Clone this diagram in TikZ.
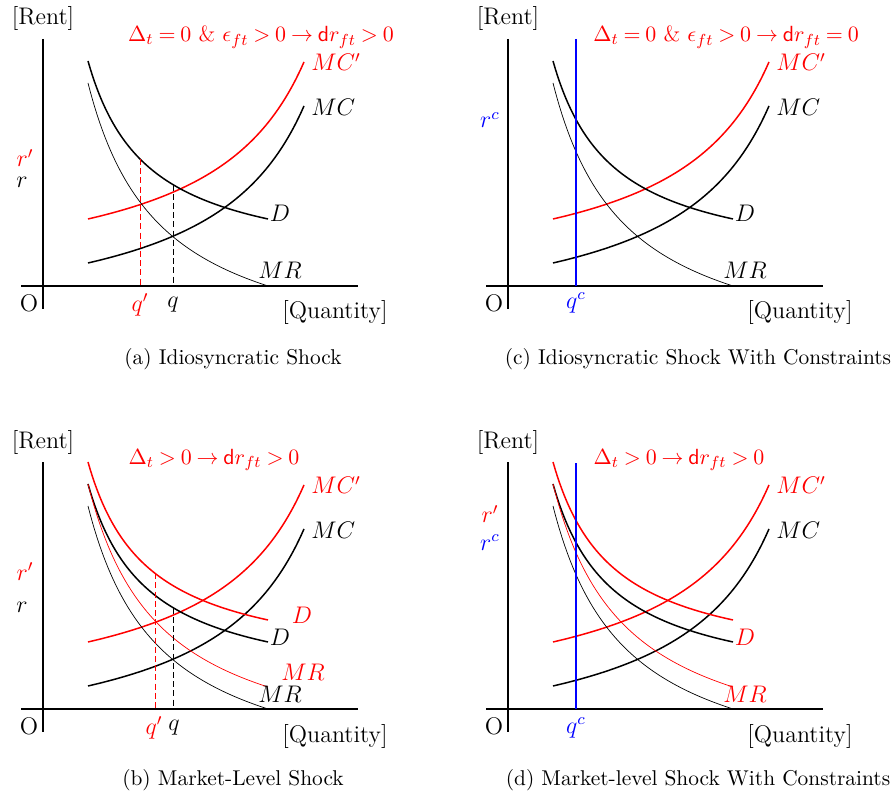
\documentclass[tikz,border=0pt]{standalone}
\usepackage{amsmath,amssymb}
\usepackage{xcolor}
\usetikzlibrary{positioning}

\begin{document}
\begin{tikzpicture}[x=0.5pt,y=-0.5pt,
  axis/.style={line width=0.7pt},
  curve/.style={line width=0.75pt},
  thincurve/.style={line width=0.35pt},
  guide/.style={line width=0.45pt,dash pattern=on 3pt off 1.6pt},
  lab/.style={font=\large,inner sep=0pt},
  ttl/.style={font=\fontsize{11}{13}\selectfont,inner sep=0pt,red,
    execute at begin node={\thickmuskip=4mu plus 2mu\relax}},
  capt/.style={font=\fontsize{10.7}{13}\selectfont,inner sep=0pt},
  declare function={dem(\u)=271.3-12534/(\u-28.4);
    mrev(\u)=367.6-205.98/(\u-15.63)*100;
    mcost(\u)=335.9-230.63/(404.3-\u)*100;}]
\useasboundingbox (0,0) rectangle (896,797);

% common parts of the four panels
\foreach \p/\px/\py in {a/0/0,c/465/0,b/0/423,d/465/423}{
  \begin{scope}[shift={(\px,\py)}]
    \draw[axis] (21,286) -- (358,286);
    \draw[axis] (43,39) -- (43,309);
    \node[lab] (\p-rent) at (43,19) {[Rent]};
    \node[lab] (\p-o) at (29,303) {O};
    \node[lab] (\p-qty) at (335,313) {[Quantity]};
    \draw[curve] plot[domain=88:304,samples=80] (\x,{mcost(\x)});
    \draw[curve,red] plot[domain=88:304,samples=80] (\x,{mcost(\x)-44});
    \draw[curve] plot[domain=88:268,samples=80] (\x,{dem(\x)});
    \draw[thincurve] plot[domain=88:268,samples=80] (\x,{mrev(\x)});
    \node[lab,red,anchor=west] (\p-mcp) at (311,62) {$MC'$};
    \node[lab,anchor=west] (\p-mc) at (311,107) {$MC$};
  \end{scope}}

% (a) idiosyncratic shock
\draw[guide,red] (140,{dem(140)}) -- (140,286);
\draw[guide] (173,{dem(173)}) -- (173,286);
\node[ttl] (a-title) at (261,37) {$\Delta_t = 0$ \& $\epsilon_{ft} > 0 \rightarrow \mathsf{d}r_{ft} > 0$};
\node[lab,red,anchor=base] (a-rp) at (25,167) {$r'$};
\node[lab,anchor=base] (a-r) at (22,188) {$r$};
\node[lab,red] (a-qp) at (140,305) {$q'$};
\node[lab] (a-q) at (173,305) {$q$};
\node[lab] (a-d) at (280,213) {$D$};
\node[lab] (a-mr) at (280,270) {$MR$};
\node[capt] (a-cap) at (233,359) {(a) Idiosyncratic Shock};

% (c) idiosyncratic shock with constraints
\begin{scope}[shift={(465,0)}]
  \draw[curve,blue] (111,39) -- (111,286);
  \node[ttl] (c-title) at (261,37) {$\Delta_t = 0$ \& $\epsilon_{ft} > 0 \rightarrow \mathsf{d}r_{ft} = 0$};
  \node[lab,blue,anchor=base] (c-rc) at (25,128) {$r^c$};
  \node[lab,blue] (c-qc) at (111,303) {$q^c$};
  \node[lab] (c-d) at (280,213) {$D$};
  \node[lab] (c-mr) at (280,270) {$MR$};
  \node[capt] (c-cap) at (233,359) {(c) Idiosyncratic Shock With Constraints};
\end{scope}

% (b) market-level shock
\begin{scope}[shift={(0,423)}]
  \draw[curve,red] plot[domain=88:268,samples=80] (\x,{dem(\x)-22});
  \draw[thincurve,red] plot[domain=88:268,samples=80] (\x,{mrev(\x)-22});
  \draw[guide,red] (155,{dem(155)-22}) -- (155,286);
  \draw[guide] (173,{dem(173)}) -- (173,286);
  \node[ttl] (b-title) at (214,37) {$\Delta_t > 0 \rightarrow \mathsf{d}r_{ft} > 0$};
  \node[lab,red,anchor=base] (b-rp) at (25,157) {$r'$};
  \node[lab,anchor=base] (b-r) at (22,189) {$r$};
  \node[lab,red] (b-qp) at (154,305) {$q'$};
  \node[lab] (b-q) at (174,305) {$q$};
  \node[lab,red] (b-dp) at (302,192) {$D$};
  \node[lab] (b-d) at (280,214) {$D$};
  \node[lab,red] (b-mrp) at (303,249) {$MR$};
  \node[lab] (b-mr) at (280,271) {$MR$};
  \node[capt] (b-cap) at (233,357) {(b) Market-Level Shock};
\end{scope}

% (d) market-level shock with constraints
\begin{scope}[shift={(465,423)}]
  \draw[curve,red] plot[domain=88:268,samples=80] (\x,{dem(\x)-22});
  \draw[thincurve,red] plot[domain=88:268,samples=80] (\x,{mrev(\x)-22});
  \draw[curve,blue] (111,40) -- (111,286);
  \node[ttl] (d-title) at (214,37) {$\Delta_t > 0 \rightarrow \mathsf{d}r_{ft} > 0$};
  \node[lab,red,anchor=base] (d-rp) at (25,100) {$r'$};
  \node[lab,blue,anchor=base] (d-rc) at (25,127) {$r^c$};
  \node[lab,blue] (d-qc) at (111,305) {$q^c$};
  \node[lab,red] (d-d) at (280,214) {$D$};
  \node[lab,red] (d-mr) at (280,271) {$MR$};
  \node[capt] (d-cap) at (233,357) {(d) Market-level Shock With Constraints};
\end{scope}
\end{tikzpicture}
\end{document}
